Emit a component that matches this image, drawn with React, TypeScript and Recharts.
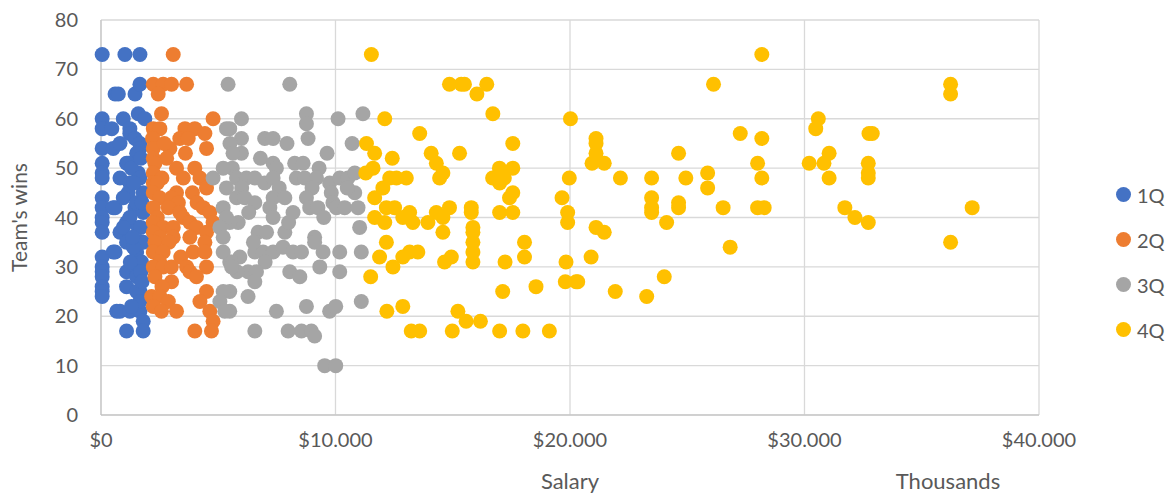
import React from 'react';
import {
  ScatterChart,
  Scatter,
  XAxis,
  YAxis,
  CartesianGrid
} from 'recharts';

// salary in thousands of dollars, team wins
const q1: [number, number][] = [
  [50, 73], [1020, 73], [1660, 73],
  [600, 65], [740, 65], [1450, 65], [1660, 67],
  [50, 60], [950, 60], [1590, 61], [1870, 60],
  [50, 58], [460, 58], [1230, 58], [1230, 57],
  [50, 54], [520, 54], [1450, 56], [1660, 55], [810, 55], [1660, 54],
  [50, 51], [1090, 51], [1520, 53], [1590, 49], [1160, 51], [1300, 50], [1700, 52],
  [50, 49], [50, 48], [810, 48], [1230, 47], [1660, 48], [1800, 45], [1160, 45], [1400, 47],
  [50, 44], [50, 42], [600, 42], [520, 42], [950, 44], [1450, 42], [1800, 41], [1520, 43], [1750, 43],
  [50, 40], [50, 39], [1090, 39], [1590, 38], [810, 37], [50, 37], [1230, 40], [950, 38], [1700, 38],
  [50, 32], [520, 33], [1090, 35], [1520, 33], [1800, 35], [600, 33], [1660, 35], [1380, 34], [1350, 36],
  [50, 30], [50, 29], [50, 28], [1090, 29], [1520, 29], [1730, 31], [1520, 28], [1250, 31], [1700, 29],
  [50, 26], [50, 25], [50, 24], [1090, 26], [1660, 25], [1520, 25], [1750, 27],
  [670, 21], [810, 21], [1230, 21], [1660, 21], [1660, 23], [1300, 22], [1800, 19], [1090, 17], [1800, 17]
];

const q2: [number, number][] = [
  [3080, 73],
  [2230, 67], [2650, 67], [3010, 67], [3650, 67], [2440, 65], [2580, 61], [4780, 60],
  [2230, 58], [2510, 58], [3580, 58], [4000, 58], [4430, 57], [3360, 56], [3720, 56], [2200, 56],
  [4500, 54], [2940, 54], [2230, 54], [2700, 55], [3600, 53], [2230, 52], [2800, 52], [2300, 51],
  [3220, 50], [4000, 50], [2230, 49], [3510, 48], [4220, 48], [2600, 48], [2230, 47], [2400, 47],
  [4500, 46], [2230, 45], [3220, 45], [3900, 45], [2500, 44], [3000, 44], [3300, 43], [4100, 43],
  [2230, 42], [2870, 42], [4360, 42], [3360, 41], [4640, 41], [2400, 40], [3500, 40],
  [2230, 39], [3790, 39], [4780, 39], [2650, 38], [3080, 38], [4070, 38], [2230, 37], [4500, 37],
  [2510, 36], [3080, 36], [3790, 36], [4430, 35], [2300, 35], [2900, 35],
  [2230, 33], [2650, 33], [3930, 33], [4430, 33], [3400, 32], [2500, 31],
  [2230, 30], [2650, 30], [3650, 30], [4500, 30], [3000, 30], [3790, 29], [4070, 28], [2300, 28],
  [3010, 27], [2600, 26], [4500, 25], [2160, 24], [2510, 24], [4220, 23], [2870, 23],
  [2230, 22], [2580, 21], [3220, 21], [4640, 21], [4780, 19], [4710, 17], [4000, 17]
];

const q3: [number, number][] = [
  [5420, 67], [8050, 67],
  [5990, 60], [8760, 61], [8760, 59], [10110, 60], [11170, 61],
  [5490, 58], [5350, 58], [5990, 56], [6980, 56], [7340, 56], [7930, 55], [8830, 56], [9640, 53], [10710, 55], [5500, 55],
  [5990, 53], [5630, 53], [7340, 51], [7480, 50], [8260, 51], [8620, 51], [6800, 52], [9300, 50], [5600, 50],
  [5780, 48], [6200, 48], [6560, 48], [6980, 47], [7340, 48], [8330, 48], [8690, 48], [9190, 48], [9750, 47],
  [10180, 48], [10530, 48], [10820, 49], [10820, 45], [7600, 46], [9000, 46], [10500, 46], [6000, 46],
  [5780, 44], [6130, 44], [6560, 43], [7340, 44], [7200, 42], [7340, 40], [7840, 44], [8190, 41], [8760, 44],
  [8900, 42], [9250, 42], [9820, 45], [9890, 43], [10040, 42], [10390, 42], [10960, 42], [6300, 41], [9500, 40],
  [5850, 39], [5490, 39], [6700, 37], [7060, 37], [7840, 37], [11030, 38], [9110, 36], [8000, 39],
  [6560, 33], [6910, 33], [7340, 33], [7760, 34], [8190, 33], [8550, 33], [9110, 35], [9470, 33], [6500, 35],
  [5920, 32], [5490, 31], [10180, 33], [11100, 33], [9330, 30], [7000, 31],
  [6270, 29], [6630, 29], [6560, 27], [8050, 29], [8480, 28], [10180, 29], [5800, 29],
  [5490, 25], [6270, 24], [5490, 21], [7480, 21], [8760, 22], [9750, 21], [10010, 22], [11100, 23],
  [6560, 17], [7980, 17], [8550, 17], [8970, 17], [9110, 16], [9540, 10], [10010, 10],
  [4780, 48], [5210, 50], [5350, 46], [5210, 42], [5350, 40], [5070, 38],
  [5210, 36], [5210, 33], [5570, 31], [5570, 30], [5210, 25], [5070, 23], [5280, 21]
];

const q4: [number, number][] = [
  [11530, 73], [14860, 67], [15360, 67], [15500, 67], [16450, 67], [16030, 65], [16710, 61], [20020, 60], [12100, 60], [13590, 57],
  [11320, 55], [11670, 53], [12420, 52], [14080, 53], [14300, 51], [14580, 49], [14440, 48], [15290, 53], [17560, 55],
  [16990, 50], [17560, 50], [16700, 48], [17200, 48], [17000, 47], [17560, 45], [17420, 44], [19970, 48], [19660, 44], [19900, 41], [19900, 39],
  [11290, 49], [11600, 50], [12020, 46], [12310, 48], [12600, 48], [13020, 48], [11670, 44], [12170, 42], [12520, 42],
  [11670, 40], [12100, 39], [12870, 40], [13160, 41], [13300, 39], [13940, 39], [14300, 41], [14580, 40], [14860, 42],
  [15790, 42], [15790, 41], [15860, 38], [17000, 41], [17560, 41],
  [14580, 37], [15860, 37], [15860, 35], [15860, 33], [15860, 31], [12170, 35], [11880, 32], [12450, 30], [12870, 32], [13160, 33], [13510, 33],
  [14650, 31], [14940, 32], [17230, 31], [18060, 35], [18060, 32], [11500, 28], [17130, 25], [18550, 26],
  [19830, 31], [19800, 27], [20260, 27], [12190, 21], [12870, 22], [13230, 17], [13590, 17], [14980, 17],
  [15220, 21], [15570, 19], [16180, 19], [17000, 17], [17990, 17], [19120, 17],
  [28180, 73], [26120, 67], [27260, 57], [28180, 56], [21110, 56], [21110, 55], [21110, 53], [20940, 51], [21460, 51], [24630, 53], [28000, 51],
  [22150, 48], [23480, 48], [24940, 48], [25870, 49], [25870, 46], [28180, 48], [23480, 44], [23480, 42], [23480, 41], [24630, 43], [24630, 42],
  [26530, 42], [28000, 42], [28280, 42],
  [21110, 38], [21460, 37], [24120, 39], [20900, 32], [20330, 27], [21930, 25], [23270, 24], [24020, 28], [26830, 34],
  [36230, 67], [36230, 65], [30590, 60], [30480, 58], [32750, 57], [32890, 57], [31050, 53], [30830, 51], [30200, 51],
  [32720, 51], [32720, 49], [32720, 48], [31050, 48], [37150, 42], [31720, 42], [32150, 40], [32720, 39], [36230, 35]
];

const xTicks = [0, 10000, 20000, 30000, 40000];
const yTicks = [0, 10, 20, 30, 40, 50, 60, 70, 80];

const series = [
  { name: '1Q', color: '#4472C4', points: q1 },
  { name: '2Q', color: '#ED7D31', points: q2 },
  { name: '3Q', color: '#A5A5A5', points: q3 },
  { name: '4Q', color: '#FFC000', points: q4 }
];

const FONT = 'Lato, "Open Sans", sans-serif';
const TEXT = '#595959';

const fmtSalary = (v: number) => (v === 0 ? '$0' : '$' + (v / 1000).toFixed(3));

const Dot = (color: string) => (props: any) => (
  <circle cx={props.cx} cy={props.cy} r={7.5} fill={color} />
);

export default function App() {
  return (
    <div style={{ position: 'absolute', left: 0, top: 0, width: 1168, height: 497, background: '#fff' }}>
      <ScatterChart width={1168} height={497} margin={{ top: 20, right: 129, bottom: 52, left: 0 }}>
        <CartesianGrid stroke="#D9D9D9" strokeWidth={1.3} />
        <XAxis
          type="number"
          dataKey="salary"
          domain={[0, 40000]}
          ticks={xTicks}
          tickFormatter={fmtSalary}
          height={30}
          tickLine={false}
          tickSize={0}
          tickMargin={18}
          stroke="#BFBFBF"
          tick={{ fill: TEXT, fontSize: 20, fontFamily: FONT }}
          label={{
            content: (p: any) => {
              const vb = p.viewBox || { x: 101, y: 415, width: 938 };
              return (
                <g fontFamily={FONT} fontSize={22} fill={TEXT}>
                  <text x={vb.x + vb.width / 2} y={vb.y + 74} textAnchor="middle" fill={TEXT}>Salary</text>
                  <text x={948} y={vb.y + 74} textAnchor="middle" fill={TEXT}>Thousands</text>
                </g>
              );
            }
          }}
        />
        <YAxis
          type="number"
          dataKey="wins"
          domain={[0, 80]}
          ticks={yTicks}
          width={101}
          tickLine={false}
          tickSize={0}
          tickMargin={23}
          stroke="#BFBFBF"
          tick={{ fill: TEXT, fontSize: 20, fontFamily: FONT }}
          label={{
            content: (p: any) => {
              const vb = p.viewBox || { y: 20, height: 395 };
              const cy = vb.y + vb.height / 2;
              return (
                <text x={18} y={cy} transform={`rotate(-90 18 ${cy})`} textAnchor="middle"
                  dominantBaseline="central" fontFamily={FONT} fontSize={21} fill={TEXT}>
                  Team's wins
                </text>
              );
            }
          }}
        />
        {series.map(s => (
          <Scatter
            key={s.name}
            name={s.name}
            data={s.points.map(([salary, wins]) => ({ salary, wins }))}
            fill={s.color}
            shape={Dot(s.color)}
            isAnimationActive={false}
          />
        ))}
      </ScatterChart>

      {/* legend, stacked at the right like Excel's */}
      <div style={{ position: 'absolute', left: 1116, top: 172, display: 'flex', flexDirection: 'column', fontFamily: FONT, fontSize: 20, color: TEXT }}>
        {series.map(s => (
          <div key={s.name} style={{ height: 45, display: 'flex', alignItems: 'center' }}>
            <span style={{ width: 15, height: 15, borderRadius: '50%', background: s.color, marginRight: 6 }} />
            <span>{s.name}</span>
          </div>
        ))}
      </div>
    </div>
  );
}
